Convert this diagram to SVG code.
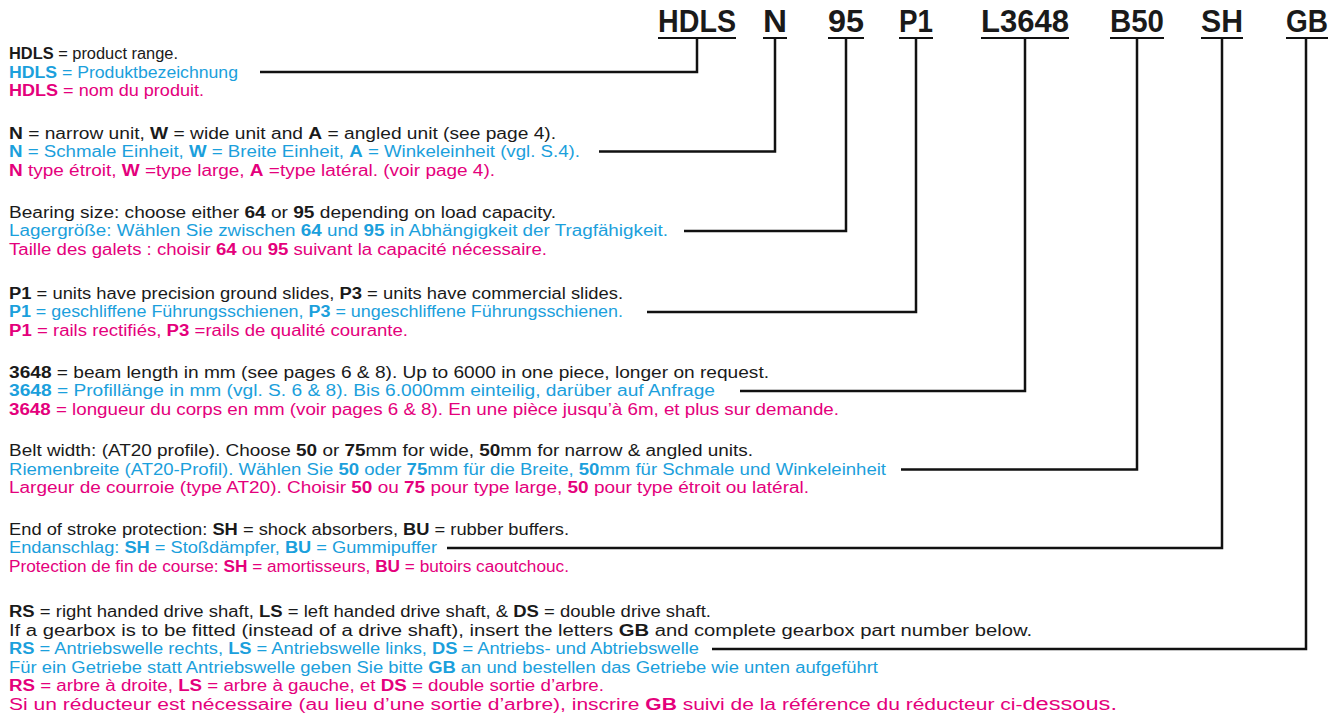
<svg xmlns="http://www.w3.org/2000/svg" width="1341" height="724" viewBox="0 0 1341 724">
<style>
text{font-family:"Liberation Sans","DejaVu Sans",sans-serif;font-size:16px}
.k{fill:#1a1a1a}.b{fill:#1ba0dc}.p{fill:#e4007c}
.B{font-weight:bold}
.code{font-size:31px;font-weight:bold;fill:#1a1a1a;text-anchor:middle}
.ln{fill:none;stroke:#111;stroke-width:2.5;stroke-linejoin:miter}
.ul{stroke:#111;stroke-width:2}
</style>
<rect width="1341" height="724" fill="#fff"/>
<g id="header">
<text class="code" x="697" y="32" textLength="78" lengthAdjust="spacingAndGlyphs">HDLS</text>
<text class="code" x="775" y="32" textLength="24" lengthAdjust="spacingAndGlyphs">N</text>
<text class="code" x="846" y="32" textLength="36" lengthAdjust="spacingAndGlyphs">95</text>
<text class="code" x="916" y="32" textLength="34" lengthAdjust="spacingAndGlyphs">P1</text>
<text class="code" x="1025" y="32" textLength="88" lengthAdjust="spacingAndGlyphs">L3648</text>
<text class="code" x="1137" y="32" textLength="54" lengthAdjust="spacingAndGlyphs">B50</text>
<text class="code" x="1222" y="32" textLength="42" lengthAdjust="spacingAndGlyphs">SH</text>
<text class="code" x="1307" y="32" textLength="42" lengthAdjust="spacingAndGlyphs">GB</text>
<line class="ul" x1="658" y1="38" x2="736" y2="38"/>
<line class="ul" x1="763" y1="38" x2="787" y2="38"/>
<line class="ul" x1="828" y1="38" x2="864" y2="38"/>
<line class="ul" x1="899" y1="38" x2="933" y2="38"/>
<line class="ul" x1="981" y1="38" x2="1069" y2="38"/>
<line class="ul" x1="1110" y1="38" x2="1164" y2="38"/>
<line class="ul" x1="1201" y1="38" x2="1243" y2="38"/>
<line class="ul" x1="1286" y1="38" x2="1328" y2="38"/>
</g>
<g id="connectors">
<path class="ln" d="M260,72H697V38"/>
<path class="ln" d="M599,151.5H775V38"/>
<path class="ln" d="M684,231H846V38"/>
<path class="ln" d="M647,312H916V38"/>
<path class="ln" d="M740,391H1025V38"/>
<path class="ln" d="M901,469.5H1137V38"/>
<path class="ln" d="M447,548H1222V38"/>
<path class="ln" d="M712,649H1306V38"/>
</g>
<g id="n-hdls">
<text class="k" x="9" y="59" textLength="169" lengthAdjust="spacingAndGlyphs"><tspan class="B">HDLS</tspan> = product range.</text>
<text class="b" x="9" y="77.5" textLength="229" lengthAdjust="spacingAndGlyphs"><tspan class="B">HDLS</tspan> = Produktbezeichnung</text>
<text class="p" x="9" y="96" textLength="195" lengthAdjust="spacingAndGlyphs"><tspan class="B">HDLS</tspan> = nom du produit.</text>
</g>
<g id="n-n">
<text class="k" x="9" y="138.5" textLength="547" lengthAdjust="spacingAndGlyphs"><tspan class="B">N</tspan> = narrow unit, <tspan class="B">W</tspan> = wide unit and <tspan class="B">A</tspan> = angled unit (see page 4).</text>
<text class="b" x="9" y="157" textLength="571" lengthAdjust="spacingAndGlyphs"><tspan class="B">N</tspan> = Schmale Einheit, <tspan class="B">W</tspan> = Breite Einheit, <tspan class="B">A</tspan> = Winkeleinheit (vgl. S.4).</text>
<text class="p" x="9" y="175.5" textLength="486" lengthAdjust="spacingAndGlyphs"><tspan class="B">N</tspan> type étroit, <tspan class="B">W</tspan> =type large, <tspan class="B">A</tspan> =type latéral. (voir page 4).</text>
</g>
<g id="n-95">
<text class="k" x="9" y="217.5" textLength="547" lengthAdjust="spacingAndGlyphs">Bearing size:  choose either <tspan class="B">64</tspan> or <tspan class="B">95</tspan> depending on load capacity.</text>
<text class="b" x="9" y="236" textLength="659" lengthAdjust="spacingAndGlyphs">Lagergröße: Wählen Sie zwischen <tspan class="B">64</tspan> und <tspan class="B">95</tspan> in Abhängigkeit der Tragfähigkeit.</text>
<text class="p" x="9" y="254.5" textLength="538" lengthAdjust="spacingAndGlyphs">Taille des galets : choisir <tspan class="B">64</tspan> ou <tspan class="B">95</tspan> suivant la capacité nécessaire.</text>
</g>
<g id="n-p1">
<text class="k" x="9" y="298.5" textLength="614" lengthAdjust="spacingAndGlyphs"><tspan class="B">P1</tspan> = units have precision ground slides, <tspan class="B">P3</tspan> = units have commercial slides.</text>
<text class="b" x="9" y="317" textLength="614" lengthAdjust="spacingAndGlyphs"><tspan class="B">P1</tspan> = geschliffene Führungsschienen, <tspan class="B">P3</tspan> = ungeschliffene Führungsschienen.</text>
<text class="p" x="9" y="335.5" textLength="399" lengthAdjust="spacingAndGlyphs"><tspan class="B">P1</tspan> = rails rectifiés, <tspan class="B">P3</tspan> =rails de qualité courante.</text>
</g>
<g id="n-l3648">
<text class="k" x="9" y="377.5" textLength="760" lengthAdjust="spacingAndGlyphs"><tspan class="B">3648</tspan> = beam length in mm (see pages 6 &amp; 8).  Up to 6000 in one piece, longer on request.</text>
<text class="b" x="9" y="396" textLength="706" lengthAdjust="spacingAndGlyphs"><tspan class="B">3648</tspan> = Profillänge in mm (vgl. S. 6 &amp; 8). Bis 6.000mm einteilig, darüber auf Anfrage</text>
<text class="p" x="9" y="414.5" textLength="830" lengthAdjust="spacingAndGlyphs"><tspan class="B">3648</tspan> = longueur du corps en mm (voir pages 6 &amp; 8). En une pièce jusqu’à 6m, et plus sur demande.</text>
</g>
<g id="n-b50">
<text class="k" x="9" y="456" textLength="744" lengthAdjust="spacingAndGlyphs">Belt width: (AT20 profile). Choose <tspan class="B">50</tspan> or <tspan class="B">75</tspan>mm for wide, <tspan class="B">50</tspan>mm for narrow &amp; angled units.</text>
<text class="b" x="9" y="474.5" textLength="877" lengthAdjust="spacingAndGlyphs">Riemenbreite (AT20-Profil). Wählen Sie <tspan class="B">50</tspan> oder <tspan class="B">75</tspan>mm für die Breite, <tspan class="B">50</tspan>mm für Schmale und Winkeleinheit</text>
<text class="p" x="9" y="493" textLength="800" lengthAdjust="spacingAndGlyphs">Largeur de courroie (type AT20). Choisir <tspan class="B">50</tspan> ou <tspan class="B">75</tspan> pour type large, <tspan class="B">50</tspan> pour type étroit ou latéral.</text>
</g>
<g id="n-sh">
<text class="k" x="9" y="534.5" textLength="560" lengthAdjust="spacingAndGlyphs">End of stroke protection: <tspan class="B">SH</tspan> = shock absorbers, <tspan class="B">BU</tspan> = rubber buffers.</text>
<text class="b" x="9" y="553" textLength="428" lengthAdjust="spacingAndGlyphs">Endanschlag: <tspan class="B">SH</tspan> = Stoßdämpfer, <tspan class="B">BU</tspan> = Gummipuffer</text>
<text class="p" x="9" y="571.5" textLength="560" lengthAdjust="spacingAndGlyphs">Protection de fin de course: <tspan class="B">SH</tspan> = amortisseurs, <tspan class="B">BU</tspan> = butoirs caoutchouc.</text>
</g>
<g id="n-gb">
<text class="k" x="9" y="617" textLength="702" lengthAdjust="spacingAndGlyphs"><tspan class="B">RS</tspan> = right handed drive shaft, <tspan class="B">LS</tspan> = left handed drive shaft, &amp; <tspan class="B">DS</tspan> = double drive shaft.</text>
<text class="k" x="9" y="635.5" textLength="1023" lengthAdjust="spacingAndGlyphs">If a gearbox is to be fitted (instead of a drive shaft), insert the letters <tspan class="B">GB</tspan> and complete gearbox part number below.</text>
<text class="b" x="9" y="654" textLength="690" lengthAdjust="spacingAndGlyphs"><tspan class="B">RS</tspan> = Antriebswelle rechts, <tspan class="B">LS</tspan> = Antriebswelle links, <tspan class="B">DS</tspan> = Antriebs- und Abtriebswelle</text>
<text class="b" x="9" y="672.5" textLength="869" lengthAdjust="spacingAndGlyphs">Für ein Getriebe statt Antriebswelle geben Sie bitte <tspan class="B">GB</tspan> an und bestellen das Getriebe wie unten aufgeführt</text>
<text class="p" x="9" y="691" textLength="595" lengthAdjust="spacingAndGlyphs"><tspan class="B">RS</tspan> = arbre à droite, <tspan class="B">LS</tspan> = arbre à gauche, et <tspan class="B">DS</tspan> = double sortie d’arbre.</text>
<text class="p" x="9" y="709.5" textLength="1108" lengthAdjust="spacingAndGlyphs">Si un réducteur est nécessaire (au lieu d’une sortie d’arbre), inscrire <tspan class="B">GB</tspan> suivi de la référence du réducteur ci-<tspan font-size="18">dessous.</tspan></text>
</g>
</svg>
